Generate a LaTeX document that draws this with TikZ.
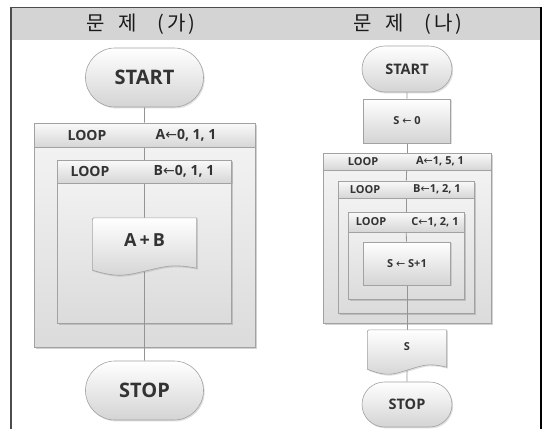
\documentclass[tikz,border=0pt]{standalone}
\usepackage{fontspec}
\newfontfamily\kr{Noto Sans CJK KR}
\newfontfamily\ui{Open Sans}
\newfontfamily\arr{DejaVu Sans}
\usetikzlibrary{shapes.misc,shadows}
\pgfdeclarelayer{back}
\pgfdeclarelayer{bodies}
\pgfdeclarelayer{lines}
\pgfdeclarelayer{shapes}
\pgfsetlayers{back,bodies,lines,shapes,main}

\definecolor{edge}{HTML}{A2A2A2}
\definecolor{ink}{HTML}{333333}
\definecolor{band}{HTML}{D4D4D4}
\newcommand{\la}{{\arr\mdseries ←}}

\tikzset{
  soft/.style={draw=edge, line width=0.6pt, top color=white, bottom color=black!17,
    drop shadow={opacity=0.25, shadow xshift=1.2pt, shadow yshift=-1.4pt}},
  term/.style={soft, rounded rectangle, inner sep=0pt, font=\ui\bfseries, text=ink},
  procbox/.style={soft, rectangle, inner sep=0pt, font=\ui\bfseries, text=ink},
  loopbody/.style={rectangle, draw=edge, line width=0.6pt, top color=black!4, bottom color=black!14,
    drop shadow={opacity=0.35, shadow xshift=1.5pt, shadow yshift=-1.5pt}},
  loophead/.style={rectangle, draw=edge, line width=0.6pt, top color=black!2, bottom color=black!16,
    drop shadow={opacity=0.2, shadow xshift=1pt, shadow yshift=-1pt}},
  docarea/.style={rectangle, inner sep=0pt, font=\ui\bfseries, text=ink},
  docfill/.style={draw=edge, line width=0.6pt, top color=white, bottom color=black!17,
    drop shadow={opacity=0.25, shadow xshift=1.2pt, shadow yshift=-1.4pt}},
  tag/.style={inner sep=0pt, font=\ui\bfseries, text=ink},
  bigtag/.style={tag, font=\ui\bfseries\fontsize{14}{17}\selectfont},
  smalltag/.style={tag, font=\ui\bfseries\fontsize{11}{13}\selectfont},
  conn/.style={draw=black!42, line width=0.8pt},
  title/.style={inner sep=0pt, font=\kr\fontsize{20}{23}\selectfont, text=black!90},
}

% wavy-bottom document outline around a node: #1 node, #2 horizontal pull
\newcommand{\docpath}[2]{%
  (#1.north west) -- (#1.north east) -- ([yshift=3pt]#1.south east)
  .. controls +(-#2,-5) and +(0.7*#2,-4) .. (#1.south)
  .. controls +(-0.7*#2,4) and +(#2,8) .. ([yshift=1pt]#1.south west)
  [rounded corners=2pt] -- cycle}

\begin{document}
\begin{tikzpicture}[x=1pt,y=-1pt]
\useasboundingbox (0,0) rectangle (542,429);
\begin{pgfonlayer}{back}
  \fill[white] (0,0) rectangle (542,429);
  \fill[band] (11,8) rectangle (541,40);
\end{pgfonlayer}

% frame and titles
\draw[black!70, line width=1.2pt] (11,429) -- (11,7.5) -- (541,7.5);
\draw[black, line width=1.5pt] (541,7) -- (541,429);
\node[title] (ta) at (141,24) {문\hspace{14pt}제\hspace{20pt}(\,가\,)};
\node[title] (tb) at (408,24) {문\hspace{14pt}제\hspace{20pt}(\,나\,)};

% ---------- left chart ----------
\begin{pgfonlayer}{bodies}
  \node[loopbody, minimum width=221pt, minimum height=224pt] (bA) at (144.5,235) {};
  \node[loopbody, minimum width=174pt, minimum height=163pt] (bB) at (144.5,241.5) {};
\end{pgfonlayer}
\node[term, minimum width=118pt, minimum height=59pt, font=\ui\bfseries\fontsize{20}{24}\selectfont] (start) at (144.5,77.5) {START};
\node[loophead, minimum width=221pt, minimum height=24pt] (hA) at (144.5,135) {};
\node[bigtag] (lA) at (87,135) {LOOP};
\node[bigtag] (vA) at (186,135) {A\la0, 1, 1};
\node[loophead, minimum width=174pt, minimum height=23pt] (hB) at (144.5,171.5) {};
\node[bigtag] (lB) at (90,171.5) {LOOP};
\node[bigtag] (vB) at (184,171.5) {B\la0, 1, 1};
\node[docarea, minimum width=104pt, minimum height=53pt] (ab) at (144.5,244.5) {};
\node[tag, font=\ui\bfseries\fontsize{18}{21}\selectfont] (abt) at (144.5,240) {A\,+\,B};
\node[term, minimum width=118pt, minimum height=59pt, font=\ui\bfseries\fontsize{20}{24}\selectfont] (stop) at (144.5,390.5) {STOP};
\begin{pgfonlayer}{shapes}
  \path[docfill] \docpath{ab}{26};
\end{pgfonlayer}
\begin{pgfonlayer}{lines}
  \draw[conn] (start) -- (hA);
  \draw[conn] (hA) -- (hB);
  \draw[conn] (hB) -- (ab);
  \draw[conn] (ab.south) -- (stop);
\end{pgfonlayer}

% ---------- right chart ----------
\begin{pgfonlayer}{bodies}
  \node[loopbody, minimum width=168pt, minimum height=170pt] (bA2) at (407,238) {};
  \node[loopbody, minimum width=136pt, minimum height=132pt] (bB2) at (406,247) {};
  \node[loopbody, minimum width=116pt, minimum height=87pt] (bC2) at (406,255.5) {};
\end{pgfonlayer}
\node[term, minimum width=90pt, minimum height=46pt, font=\ui\bfseries\fontsize{14.5}{17}\selectfont] (start2) at (407,69) {START};
\node[procbox, minimum width=87pt, minimum height=44pt, font=\ui\bfseries\fontsize{11}{13}\selectfont] (s0) at (407,121) {S \la{} 0};
\node[loophead, minimum width=168pt, minimum height=17pt] (hA2) at (407,161.5) {};
\node[smalltag] (lA2) at (363,161.5) {LOOP};
\node[smalltag] (vA2) at (440,161.5) {A\la1, 5, 1};
\node[loophead, minimum width=136pt, minimum height=17pt] (hB2) at (406,189.5) {};
\node[smalltag] (lB2) at (365,189.5) {LOOP};
\node[smalltag] (vB2) at (437,189.5) {B\la1, 2, 1};
\node[loophead, minimum width=116pt, minimum height=20pt] (hC2) at (406,222) {};
\node[smalltag] (lC2) at (371,222) {LOOP};
\node[smalltag] (vC2) at (435,222) {C\la1, 2, 1};
\node[procbox, minimum width=87pt, minimum height=43pt, font=\ui\bfseries\fontsize{11}{13}\selectfont] (inc) at (407,263.5) {S \la{} S+1};
\node[docarea, minimum width=79pt, minimum height=40pt] (outS) at (407,350) {};
\node[tag, font=\ui\bfseries\fontsize{11}{13}\selectfont] (outSt) at (407,347) {S};
\node[term, minimum width=90pt, minimum height=45pt, font=\ui\bfseries\fontsize{14.5}{17}\selectfont] (stop2) at (407,404.5) {STOP};
\begin{pgfonlayer}{shapes}
  \path[docfill] \docpath{outS}{20};
\end{pgfonlayer}
\begin{pgfonlayer}{lines}
  \draw[conn] (start2) -- (s0);
  \draw[conn] (s0) -- (hA2);
  \draw[conn] (hA2) -- (hB2);
  \draw[conn] (hB2) -- (hC2);
  \draw[conn] (hC2) -- (inc);
  \draw[conn] (inc) -- (outS);
  \draw[conn] (outS.south) -- (stop2);
\end{pgfonlayer}
\end{tikzpicture}
\end{document}
